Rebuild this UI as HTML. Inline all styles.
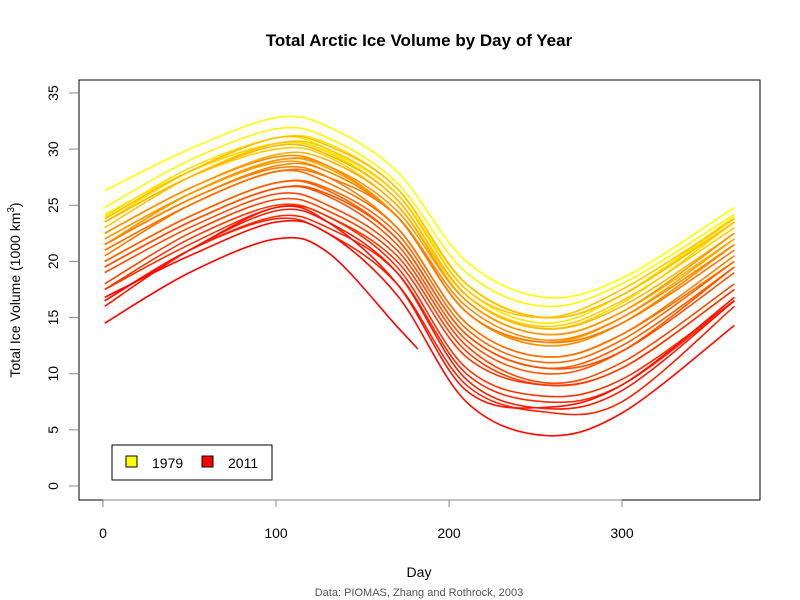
<!DOCTYPE html>
<html><head><meta charset="utf-8"><style>
body{margin:0;background:#fff}
svg{display:block;font-family:"Liberation Sans",Arial,sans-serif}
</style></head><body>
<svg id="chart" width="800" height="600">
<text x="419" y="46" text-anchor="middle" font-size="17" font-weight="bold">Total Arctic Ice Volume by Day of Year</text>
<rect x="79" y="80" width="681" height="420" fill="none" stroke="#000"/>
<g id="axes"></g>
<g id="lines"></g>
<text x="419" y="577" text-anchor="middle" font-size="14">Day</text>
<text x="419" y="596" text-anchor="middle" font-size="11" fill="#555">Data: PIOMAS, Zhang and Rothrock, 2003</text>
<text transform="translate(20,290) rotate(-90)" text-anchor="middle" font-size="14">Total Ice Volume (1000  km<tspan dy="-6" font-size="10">3</tspan><tspan dy="6">)</tspan></text>
<g>
<rect x="112" y="445" width="160" height="35" fill="#fff" stroke="#000"/>
<rect x="126" y="456" width="11" height="11" fill="#ffff00" stroke="#000"/>
<text x="152" y="468" font-size="14">1979</text>
<rect x="202" y="456" width="11" height="11" fill="#ff0000" stroke="#000"/>
<text x="228" y="468" font-size="14">2011</text>
</g>
</svg>
<script>
const days = [1,50,100,130,170,210,255,300,365];
const days2011 = [1,50,100,130,170,182];
const years = [1979,1980,1981,1982,1983,1984,1985,1986,1987,1988,1989,1990,1991,1992,1993,1994,1995,1996,1997,1998,1999,2000,2001,2002,2003,2004,2005,2006,2007,2008,2009,2010,2011];
const v1979=[26.3,30,32.8,32.0,28,20,16.8,18.5,24.8];
const v1980=[24.8,29,31.8,31.0,27,19,16.0,18,24.2];
const v1981=[24.2,28,30.5,29.8,26,18,15,17,23.5];
const v1982=[23.5,28,31,30.0,26,17.5,14.5,17,24];
const v1983=[24,28.3,31,30.5,26.5,18,15,17,23.8];
const v1984=[23.8,28,30.5,29.7,25.5,17,14,16.3,23.5];
const v1985=[23.5,27.5,30,29.3,25,17,14.2,16.5,23];
const v1986=[23,27.5,30.5,30.0,26,17.5,15,17.5,23.8];
const v1987=[23.8,28,31,30.3,26.5,18,15,17,23.5];
const v1988=[23.5,27.5,30.3,29.5,25.5,17,14,16,22.5];
const v1989=[22.5,26.5,29.5,29.0,25,16.5,13.5,15.5,22];
const v1990=[22,26,29,28.3,24,15.5,12.8,15,22];
const v1991=[22,26,28.8,28.0,24,15.5,12.5,14.5,21.5];
const v1992=[21.5,26,29,28.5,24.5,16.5,13.5,15.5,22.5];
const v1993=[22.5,26.5,29.3,28.5,24,15.5,12.5,14.5,21.5];
const v1994=[21.5,25.5,28.5,28.0,24,16,13,15,21.5];
const v1995=[21.5,25.5,28.3,27.5,23,14.5,11.5,13.5,20.5];
const v1996=[20.5,25,28,27.5,24,15.5,12.8,14.5,21];
const v1997=[21,25,28,27.0,23,14.5,11.5,13.5,20];
const v1998=[20,24,27,26.5,22.5,14,11,13,20];
const v1999=[20,24,27,26.3,22,13.5,10.5,12.5,19.5];
const v2000=[19.5,23.5,26.5,25.8,21.5,13,10,12,19.5];
const v2001=[19.5,23.5,26.5,26.0,22,13.5,10.5,12,19];
const v2002=[19,23,26,25.0,21,12.5,9.2,11,18];
const v2003=[18,22.5,25.5,24.5,20.5,12,9,10.5,17.5];
const v2004=[17.5,22,25,24.0,20,11.5,9,10.5,17.5];
const v2005=[17.5,21.5,24.8,24.0,19.5,10.5,8,9.5,16.5];
const v2006=[16.5,21,24,23.0,19,10,7.5,9,16.5];
const v2007=[16.5,21,23.8,22.5,18,9,6.6,7.5,16];
const v2008=[16,21,24.5,23.5,19,9.5,6.9,8.5,16.5];
const v2009=[16.5,21,24.8,23.5,18,8.5,7,9,16.8];
const v2010=[16.8,20.5,23.5,22.5,17,7.5,4.5,6.5,14.3];
const v2011=[14.5,19,22,20.8,14.2,12.2];
const series=[v1979,v1980,v1981,v1982,v1983,v1984,v1985,v1986,v1987,v1988,v1989,v1990,v1991,v1992,v1993,v1994,v1995,v1996,v1997,v1998,v1999,v2000,v2001,v2002,v2003,v2004,v2005,v2006,v2007,v2008,v2009,v2010,v2011];
const xTicks=[0,100,200,300];
const yTicks=[0,5,10,15,20,25,30,35];

const NS="http://www.w3.org/2000/svg";
function xs(d){return 103+d*1.73;}
function ys(v){return 486-v*11.23;}
const axes=document.getElementById('axes');
function mk(tag,attrs,parent){const e=document.createElementNS(NS,tag);for(const k in attrs)e.setAttribute(k,attrs[k]);parent.appendChild(e);return e;}
mk('line',{x1:xs(0),x2:xs(300),y1:500,y2:500,stroke:'#888'},axes);
xTicks.forEach(t=>{
  const l=mk('line',{x1:xs(t),x2:xs(t),y1:500,y2:507,stroke:'#888'},axes);
  
  
  const tx=mk('text',{x:xs(t),y:538,'text-anchor':'middle','font-size':14},axes);
  tx.textContent=t;
  
  
});
yTicks.forEach(t=>{
  const l=mk('line',{x1:69,x2:79,y1:ys(t),y2:ys(t),stroke:'#888'},axes);
  
  
  const tx=mk('text',{transform:`translate(58,${ys(t)}) rotate(-90)`,'text-anchor':'middle','font-size':14},axes);
  tx.textContent=t;
  
  
});
function pathFor(dd,vv){
  const p=dd.map((d,i)=>[xs(d),ys(vv[i])]);
  let s=`M${p[0][0]},${p[0][1]}`;
  for(let i=0;i<p.length-1;i++){
    const p0=p[i-1]||p[i],p1=p[i],p2=p[i+1],p3=p[i+2]||p2;
    const c1=[p1[0]+(p2[0]-p0[0])/6,p1[1]+(p2[1]-p0[1])/6];
    const c2=[p2[0]-(p3[0]-p1[0])/6,p2[1]-(p3[1]-p1[1])/6];
    s+=` C${c1[0]},${c1[1]} ${c2[0]},${c2[1]} ${p2[0]},${p2[1]}`;
  }
  return s;
}
const lines=document.getElementById('lines');
series.forEach((vv,i)=>{
  const g=Math.round(255*(1-i/(series.length-1)));
  const dd=vv.length===days.length?days:days2011;
  const p=mk('path',{d:pathFor(dd,vv),fill:'none',stroke:`rgb(255,${g},0)`,'stroke-width':1.6},lines);
  
  
});
</script>
</body></html>
